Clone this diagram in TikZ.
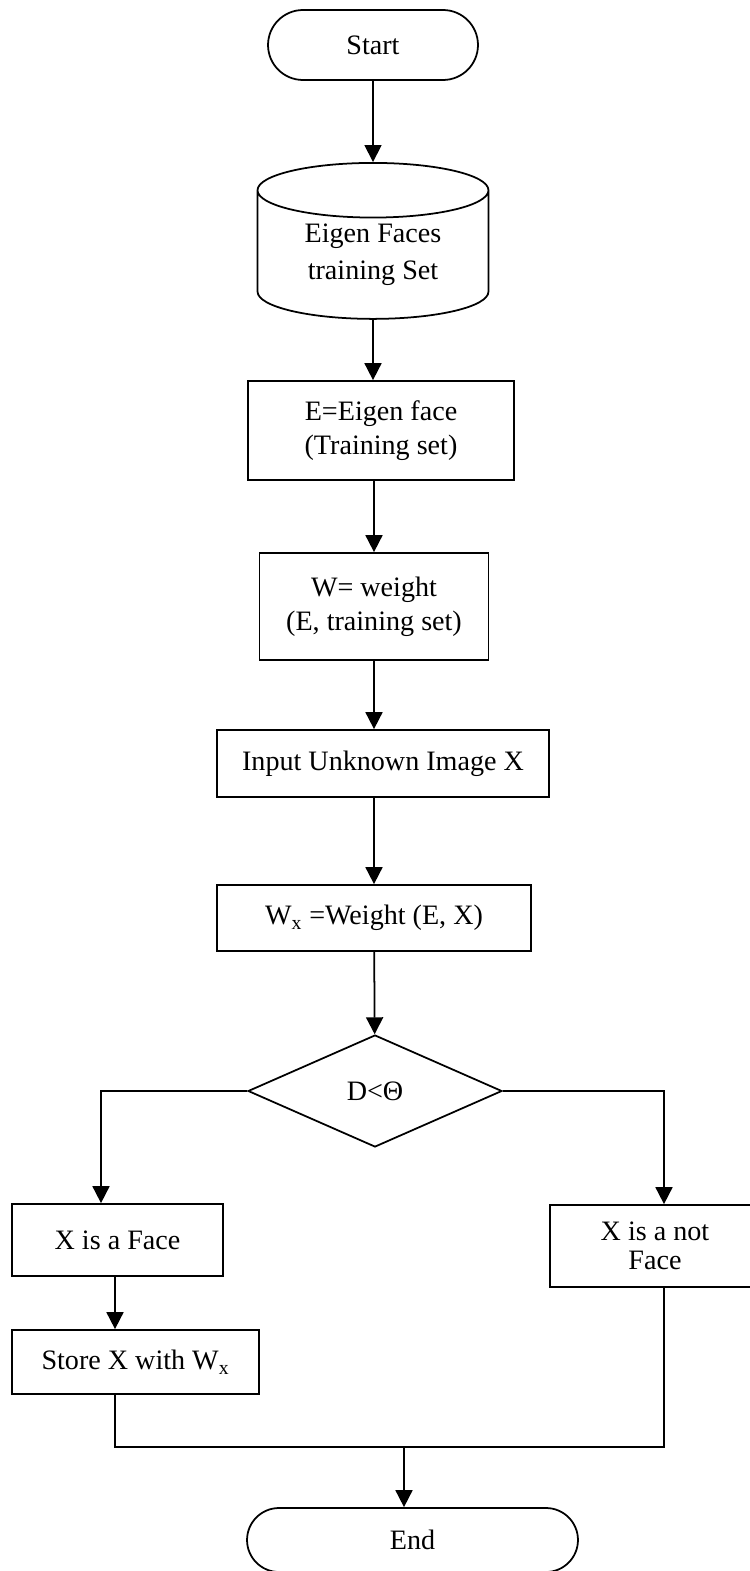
\documentclass[tikz,border=0pt]{standalone}
\usepackage{fontspec}
\setmainfont{Liberation Serif}
\usepackage{tikz}
\usetikzlibrary{shapes.geometric,shapes.misc,arrows.meta}

\begin{document}
\begin{tikzpicture}[x=0.02cm, y=-0.02cm,
    every node/.style={font=\fontsize{16}{19.5}\selectfont},
    term/.style={draw, line width=1pt, rounded rectangle, rounded rectangle arc length=180, inner sep=0pt},
    box/.style={draw, line width=1pt, rectangle, align=center, inner sep=0pt},
    arr/.style={line width=1pt, -{Triangle[length=0.34cm, width=0.34cm]}},
    line/.style={line width=1pt}]
    \useasboundingbox (0,0) rectangle (750,1571);
    % boxes, top to bottom
    \node[term, minimum width=4.2cm, minimum height=1.4cm] (start) at (373, 45) {Start};
    \node[draw, line width=1pt, cylinder, shape border rotate=90, shape aspect=0.4,
          minimum width=4.62cm, minimum height=3.12cm, align=center, inner sep=0pt,
          font=\fontsize{16}{21}\selectfont] (db) at (373, 255) {Eigen Faces\\training Set};
    \node[box, minimum width=5.32cm, minimum height=1.98cm] (eig) at (381, 430.5) {E=Eigen face\\(Training set)};
    \node[box, minimum width=4.58cm, minimum height=2.14cm] (wgt) at (374, 606.5) {W= weight\\(E, training set)};
    \node[box, minimum width=6.64cm, minimum height=1.34cm] (inp) at (383, 763.5) {Input Unknown Image X};
    \node[box, minimum width=6.28cm, minimum height=1.32cm] (wx) at (374, 918) {W\textsubscript{x} =Weight (E, X)};
    \node[draw, line width=1pt, diamond, minimum width=5.08cm, minimum height=2.24cm, inner sep=0pt] (dec) at (375, 1091) {D<Θ};
    \node[box, minimum width=4.22cm, minimum height=1.44cm] (face) at (117.5, 1240) {X is a Face};
    \node[box, minimum width=4.2cm, minimum height=1.64cm,
          font=\fontsize{16}{16.5}\selectfont] (notface) at (655, 1246) {X is a not\\Face};
    \node[box, minimum width=4.94cm, minimum height=1.28cm] (store) at (135.5, 1362) {Store X with W\textsubscript{x}};
    \node[term, minimum width=6.62cm, minimum height=1.28cm] (end) at (412.5, 1540) {End};
    \coordinate (join) at (404, 1447);

    % connectors
    \draw[arr] (start) -- (db);
    \draw[arr] (db) -- (db |- eig.north);
    \draw[arr] (wgt |- eig.south) -- (wgt);
    \draw[arr] (wgt) -- (wgt |- inp.north);
    \draw[arr] (wx |- inp.south) -- (wx);
    \draw[arr] (wx) -- (dec);
    \draw[arr] (dec.west) -| ([xshift=-0.33cm]face.north);
    \draw[arr] (dec.east) -| ([xshift=0.18cm]notface.north);
    \draw[arr] ([xshift=-0.05cm]face.south) -- ([xshift=-0.05cm]face.south |- store.north);
    \draw[line] ([xshift=-0.41cm]store.south) |- (join) -| ([xshift=0.18cm]notface.south);
    \draw[arr] (join) -- (join |- end.north);
\end{tikzpicture}
\end{document}
